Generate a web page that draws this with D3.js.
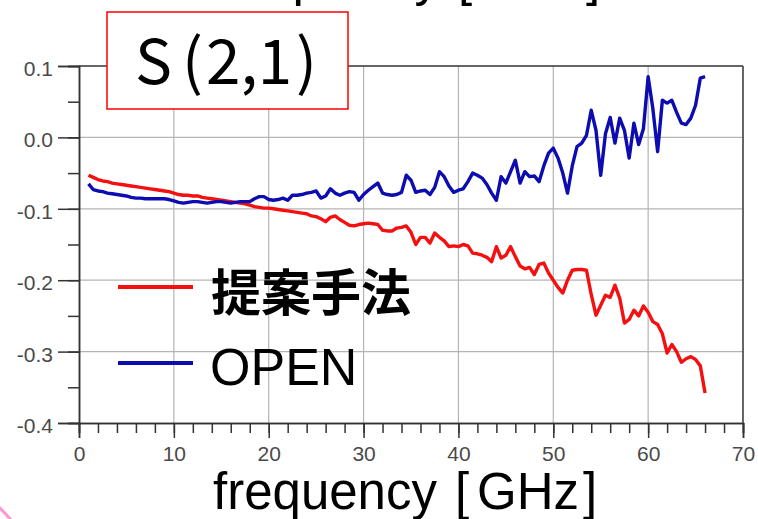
<!DOCTYPE html>
<html>
<head>
<meta charset="utf-8">
<script src="https://cdn.jsdelivr.net/npm/d3@7"></script>
<style>
  body { margin: 0; background: #fff; }
  svg { display: block; }
</style>
</head>
<body>
<div id="chart"></div>
<script>
var svgWidth = 758;
var svgHeight = 519;

var margin = { top: 66, right: 15, bottom: 96, left: 79 };
var width = svgWidth - margin.left - margin.right;
var height = svgHeight - margin.top - margin.bottom;

// frequency samples (GHz), 0.5 GHz step from 1 to 66
var freqs = d3.range(1, 66.01, 0.5);

// S(2,1) for the proposed method (red)
var proposed = [
  -0.053, -0.056, -0.059, -0.061, -0.062, -0.064, -0.065, -0.066, -0.067, -0.068,
  -0.069, -0.070, -0.071, -0.072, -0.073, -0.074, -0.075, -0.076, -0.078, -0.080,
  -0.081, -0.081, -0.082, -0.082, -0.084, -0.085, -0.086, -0.087, -0.088, -0.089,
  -0.090, -0.091, -0.092, -0.093, -0.095, -0.097, -0.098, -0.099, -0.099, -0.100,
  -0.101, -0.102, -0.103, -0.104, -0.105, -0.106, -0.107, -0.110, -0.111, -0.114,
  -0.118, -0.112, -0.110, -0.115, -0.119, -0.123, -0.124, -0.122, -0.121, -0.120,
  -0.121, -0.122, -0.130, -0.131, -0.131, -0.127, -0.126, -0.124, -0.133, -0.150,
  -0.140, -0.140, -0.148, -0.134, -0.140, -0.145, -0.153, -0.152, -0.153, -0.150,
  -0.152, -0.162, -0.163, -0.165, -0.168, -0.174, -0.153, -0.169, -0.165, -0.153,
  -0.167, -0.180, -0.184, -0.182, -0.192, -0.178, -0.176, -0.190, -0.200, -0.210,
  -0.218, -0.200, -0.186, -0.185, -0.185, -0.186, -0.220, -0.249, -0.235, -0.221,
  -0.224, -0.207, -0.225, -0.260, -0.255, -0.242, -0.250, -0.236, -0.245, -0.258,
  -0.262, -0.275, -0.302, -0.290, -0.300, -0.315, -0.310, -0.307, -0.311, -0.320,
  -0.358
];

// S(2,1) for OPEN (blue)
var open = [
  -0.065, -0.073, -0.075, -0.076, -0.078, -0.079, -0.080, -0.081, -0.082, -0.084,
  -0.085, -0.085, -0.086, -0.086, -0.086, -0.086, -0.086, -0.087, -0.089, -0.091,
  -0.092, -0.091, -0.090, -0.090, -0.091, -0.092, -0.091, -0.090, -0.090, -0.091,
  -0.092, -0.091, -0.090, -0.090, -0.090, -0.086, -0.083, -0.083, -0.087, -0.088,
  -0.087, -0.085, -0.088, -0.081, -0.081, -0.080, -0.078, -0.077, -0.075, -0.085,
  -0.082, -0.072, -0.078, -0.081, -0.078, -0.076, -0.077, -0.088, -0.080, -0.074,
  -0.069, -0.064, -0.078, -0.080, -0.081, -0.080, -0.077, -0.053, -0.060, -0.077,
  -0.075, -0.074, -0.080, -0.070, -0.048, -0.055, -0.068, -0.077, -0.074, -0.072,
  -0.062, -0.050, -0.053, -0.057, -0.066, -0.078, -0.088, -0.055, -0.064, -0.048,
  -0.032, -0.064, -0.048, -0.055, -0.054, -0.062, -0.040, -0.022, -0.015, -0.029,
  -0.050, -0.078, -0.040, -0.013, -0.008, 0.003, 0.038, 0.010, -0.053, 0.005,
  0.028, -0.008, 0.027, 0.010, -0.029, 0.020, -0.010, 0.012, 0.085, 0.040,
  -0.020, 0.052, 0.048, 0.052, 0.035, 0.020, 0.018, 0.027, 0.045, 0.083,
  0.085
];

var xTicks = [0, 10, 20, 30, 40, 50, 60, 70];
var yTicks = [0.1, 0.0, -0.1, -0.2, -0.3, -0.4];
var yTickLabels = ["0.1", "0.0", "-0.1", "-0.2", "-0.3", "-0.4"];

var seriesNames = ["提案手法", "OPEN"];
var seriesColors = ["#f41010", "#0c0cb0"];

var svg = d3.select("#chart")
  .append("svg")
  .attr("width", svgWidth)
  .attr("height", svgHeight);

var chartGroup = svg.append("g")
  .attr("transform", `translate(${margin.left}, ${margin.top})`);

var xScale = d3.scaleLinear().domain([0, 70]).range([0, width]);
var yScale = d3.scaleLinear().domain([-0.4, 0.1]).range([height, 0]);

// grid lines
chartGroup.append("g")
  .selectAll("line")
  .data(xTicks.slice(1, -1))
  .enter()
  .append("line")
  .attr("x1", d => xScale(d))
  .attr("x2", d => xScale(d))
  .attr("y1", 0)
  .attr("y2", height)
  .attr("stroke", "#b4b4b4")
  .attr("stroke-width", 1.2);

chartGroup.append("g")
  .selectAll("line")
  .data(yTicks.slice(1, -1))
  .enter()
  .append("line")
  .attr("x1", 0)
  .attr("x2", width)
  .attr("y1", d => yScale(d))
  .attr("y2", d => yScale(d))
  .attr("stroke", "#b4b4b4")
  .attr("stroke-width", 1.2);

// frame top and right
chartGroup.append("line")
  .attr("x1", 0).attr("x2", width)
  .attr("y1", 0).attr("y2", 0)
  .attr("stroke", "#333").attr("stroke-width", 1.5);
chartGroup.append("line")
  .attr("x1", width).attr("x2", width)
  .attr("y1", 0).attr("y2", height)
  .attr("stroke", "#333").attr("stroke-width", 1.5);

// axes: minor ticks first, then major ticks with labels
var xMinor = d3.axisBottom(xScale)
  .tickValues(d3.range(0, 71, 2))
  .tickSize(10)
  .tickFormat("");
var xMajor = d3.axisBottom(xScale)
  .tickValues(xTicks)
  .tickSize(15)
  .tickPadding(8)
  .tickFormat(d3.format("d"));

var yMinor = d3.axisLeft(yScale)
  .tickValues(d3.range(-0.4, 0.11, 0.05))
  .tickSize(11)
  .tickFormat("");
var yMajor = d3.axisLeft(yScale)
  .tickValues(yTicks)
  .tickSize(21)
  .tickPadding(5)
  .tickFormat((d, i) => yTickLabels[i]);

[xMinor, xMajor].forEach(function (ax) {
  chartGroup.append("g")
    .attr("transform", `translate(0, ${height})`)
    .call(ax);
});
[yMinor, yMajor].forEach(function (ax) {
  chartGroup.append("g").call(ax);
});

chartGroup.selectAll(".domain")
  .attr("stroke", "#333")
  .attr("stroke-width", 1.5);
chartGroup.selectAll(".tick line")
  .attr("stroke", "#333")
  .attr("stroke-width", 1.5);
chartGroup.selectAll(".tick text")
  .attr("fill", "#4a4a4a")
  .attr("font-family", "Liberation Sans, Arial, sans-serif")
  .attr("font-size", 21);
chartGroup.selectAll(".tick text")
  .filter(function () { return d3.select(this.parentNode.parentNode).attr("transform") == null; })
  .attr("dy", "0.45em");

// series lines
var line = d3.line()
  .x((d, i) => xScale(freqs[i]))
  .y(d => yScale(d));

[proposed, open].forEach(function (vals, k) {
  chartGroup.append("path")
    .datum(vals)
    .attr("fill", "none")
    .attr("stroke", seriesColors[k])
    .attr("stroke-width", 3.4)
    .attr("stroke-linejoin", "round")
    .attr("d", line);
});

// legend
var legendY = [287, 363];
seriesNames.forEach(function (name, k) {
  svg.append("line")
    .attr("x1", 118).attr("x2", 193)
    .attr("y1", legendY[k]).attr("y2", legendY[k])
    .attr("stroke", seriesColors[k])
    .attr("stroke-width", 4);
});
svg.append("text")
  .attr("x", 211)
  .attr("y", 311)
  .attr("font-family", "Noto Sans CJK JP")
  .attr("font-weight", "bold")
  .attr("font-size", 50)
  .attr("fill", "#000")
  .text(seriesNames[0]);
svg.append("text")
  .attr("x", 210)
  .attr("y", 385)
  .attr("font-family", "Liberation Sans, Arial, sans-serif")
  .attr("font-size", 52)
  .attr("fill", "#000")
  .text(seriesNames[1]);

// S(2,1) label box
svg.append("rect")
  .attr("x", 107).attr("y", 12)
  .attr("width", 241).attr("height", 97)
  .attr("fill", "#fff")
  .attr("stroke", "#f00")
  .attr("stroke-width", 1.5);
var sLabel = svg.append("text")
  .attr("y", 84)
  .attr("font-family", "Noto Sans CJK JP")
  .attr("font-size", 62)
  .attr("fill", "#000");
sLabel.append("tspan").attr("x", 135).text("S");
sLabel.append("tspan").attr("x", 182).text("(");
sLabel.append("tspan").attr("x", 206).text("2,1");
sLabel.append("tspan").attr("x", 296).text(")");

// x axis title, and the cut-off title of the chart above
function axisTitle(x0, y0) {
  var t = svg.append("text")
    .attr("y", y0)
    .attr("font-family", "Liberation Sans, Arial, sans-serif")
    .attr("font-size", 51)
    .attr("fill", "#000");
  t.append("tspan").attr("x", x0).text("frequency");
  t.append("tspan").attr("x", x0 + 242).text("[");
  t.append("tspan").attr("x", x0 + 264).text("GHz");
  t.append("tspan").attr("x", x0 + 370).text("]");
}
axisTitle(213, 509);
axisTitle(216, -5);

// pink arc in the bottom-left corner
svg.append("path")
  .attr("d", "M -2 506 Q 5 513 12 521")
  .attr("fill", "none")
  .attr("stroke", "#ff99cc")
  .attr("stroke-width", 3);
</script>
</body>
</html>
